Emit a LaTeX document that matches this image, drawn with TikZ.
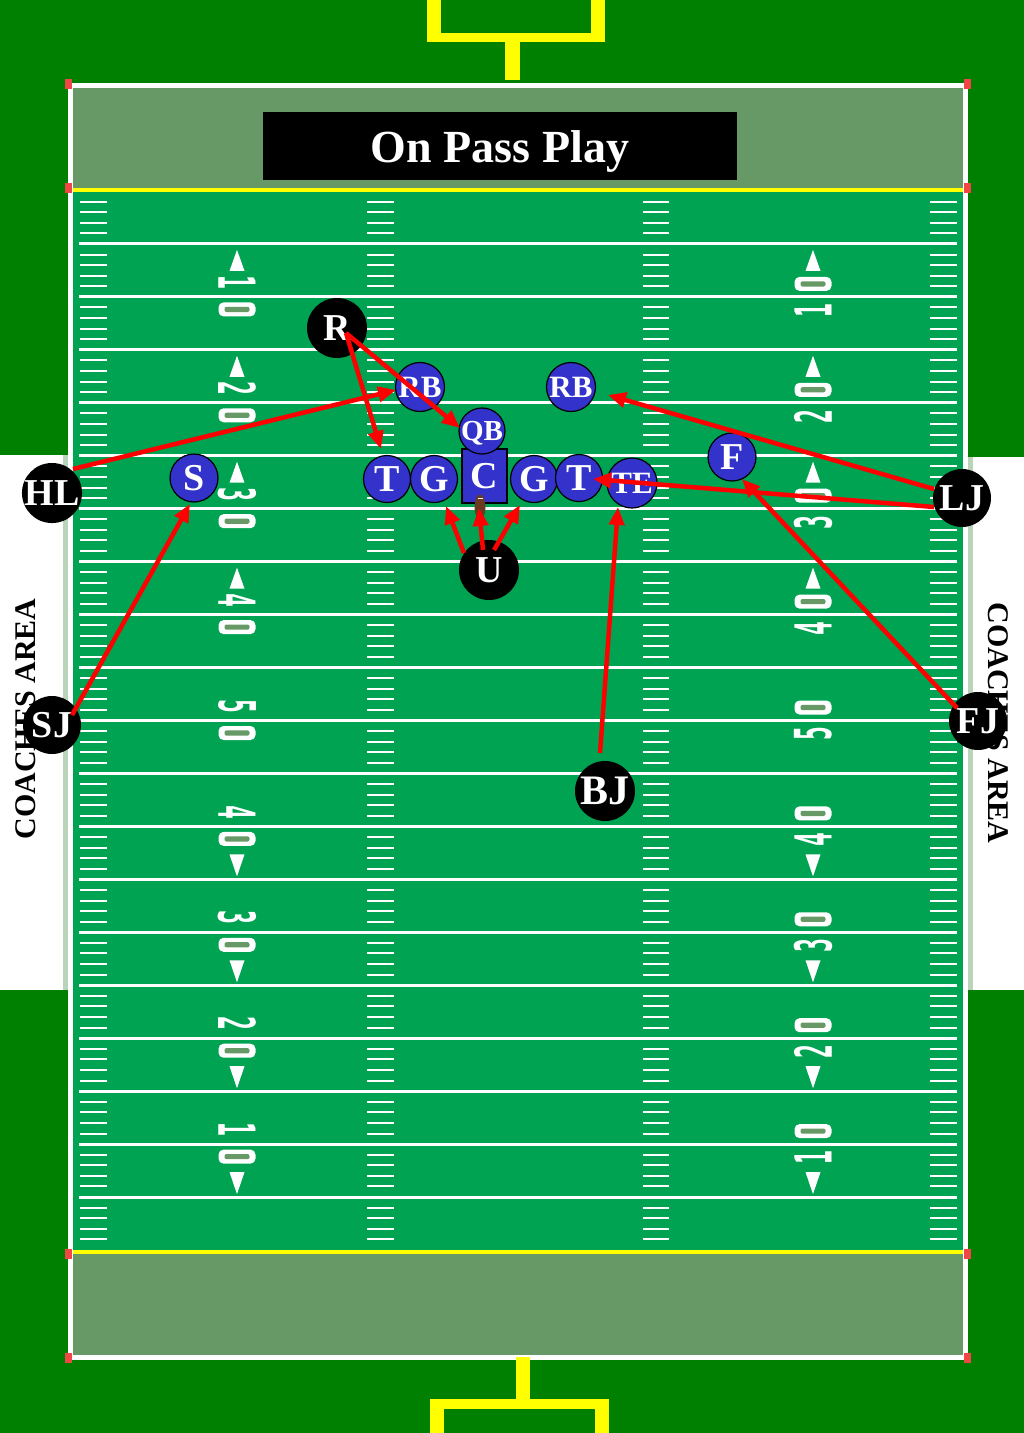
\documentclass[tikz,border=0pt]{standalone}
\usepackage{fontspec}
\setmainfont{Liberation Serif}
\newfontfamily\yarddigitfont{DejaVu Sans Mono Bold}
\usetikzlibrary{arrows.meta,calc,shapes.geometric}
\definecolor{darkgrass}{RGB}{0,128,0}
\definecolor{endzone}{RGB}{102,153,102}
\definecolor{fieldgreen}{RGB}{0,163,82}
\definecolor{playerblue}{RGB}{51,51,204}
\definecolor{goalyellow}{RGB}{255,255,0}
\definecolor{palestripe}{RGB}{185,212,185}
\definecolor{ballbrown}{RGB}{105,58,32}
\definecolor{pylonred}{RGB}{240,70,70}
\newcommand{\ydig}[1]{\scalebox{0.45}[1]{\yarddigitfont\fontsize{51}{51}\selectfont #1}}
\tikzset{
  player/.style={circle,draw=black,line width=1.2pt,fill=playerblue,text=white,
    font=\bfseries\fontsize{38}{38}\selectfont,minimum size=47pt,inner sep=0pt,text depth=0pt},
  smallplayer/.style={player,font=\bfseries\fontsize{31}{31}\selectfont},
  official/.style={circle,fill=black,text=white,font=\bfseries\fontsize{38}{38}\selectfont,
    minimum size=60pt,inner sep=0pt,text depth=0pt},
  offarrow/.style={draw=red,line width=4.5pt,-{Triangle[length=18pt,width=15pt]}},
  tickmark/.style={draw=white,line width=2pt},
  yardline/.style={draw=white,line width=3pt},
  yardnum/.style={text=white,inner sep=0pt},
  zeropill/.pic={\fill[white,rounded corners=5pt] (-18.5,-7) rectangle (18.5,7);
                 \fill[endzone,rounded corners=2pt] (-12.5,-2.6) rectangle (12.5,2.6);},
  coach/.style={text=black,font=\bfseries\fontsize{30}{30}\selectfont,inner sep=0pt}
}
\begin{document}
\begin{tikzpicture}[x=1pt,y=-1pt]
\useasboundingbox (0,0) rectangle (1024,1433);
\fill[darkgrass] (0,0) rectangle (1024,1433);
% coaches areas
\fill[white] (0,455) rectangle (63,990);
\fill[palestripe] (63,455) rectangle (70,990);
\fill[palestripe] (966,457) rectangle (973,990);
\fill[white] (973,457) rectangle (1024,990);
% end zones and field
\fill[endzone] (70,85) rectangle (966,190);
\fill[fieldgreen] (70,190) rectangle (966,1252);
\fill[endzone] (70,1252) rectangle (966,1357);
% ticks
\foreach \k in {0,...,19} {
  \foreach \j in {1,...,4} {
    \pgfmathsetmacro{\T}{191+52.95*\k+10.59*\j}
    \foreach \a/\b in {80/107,367/394,643/669,930/957}
      \draw[tickmark] (\a,\T) -- (\b,\T);
  }
}
% yard lines
\foreach \k in {1,...,19} {
  \pgfmathsetmacro{\Y}{191+52.95*\k}
  \draw[yardline] (79,\Y) -- (957,\Y);
}
% yard numbers
\foreach \k/\d in {2/1,4/2,6/3,8/4,10/5,12/4,14/3,16/2,18/1} {
  \pgfmathsetmacro{\Y}{191+52.95*\k}
  \node[yardnum,rotate=-90] at (237,\Y-14.5) {\ydig{\d}};
  \pic at (237,\Y+12.5) {zeropill};
  \node[yardnum,rotate=90] at (813,\Y+13.5) {\ydig{\d}};
  \pic at (813,\Y-13) {zeropill};
}
\foreach \k in {2,4,6,8} {
  \pgfmathsetmacro{\Y}{191+52.95*\k}
  \foreach \X in {237,813}
    \fill[white] (\X,\Y-47) -- (\X-7.5,\Y-26) -- (\X+7.5,\Y-26) -- cycle;
}
\foreach \k in {12,14,16,18} {
  \pgfmathsetmacro{\Y}{191+52.95*\k}
  \foreach \X in {237,813}
    \fill[white] (\X,\Y+50) -- (\X-7.5,\Y+28) -- (\X+7.5,\Y+28) -- cycle;
}
% boundary and goal lines
\draw[white,line width=5pt] (70.5,85) rectangle (965.5,1357);
\draw[goalyellow,line width=4pt] (73,190) -- (963,190);
\draw[goalyellow,line width=4pt] (73,1252) -- (963,1252);
% pylons
\foreach \px in {68,967} \foreach \py in {84,188,1254,1358}
  \fill[pylonred] (\px-3.5,\py-5) rectangle (\px+3.5,\py+5);
% goal posts
\fill[goalyellow] (427,0) rectangle (441,42);
\fill[goalyellow] (591,0) rectangle (605,42);
\fill[goalyellow] (427,33) rectangle (605,42);
\fill[goalyellow] (505,42) rectangle (520,80);
\fill[goalyellow] (516,1357) rectangle (530,1400);
\fill[goalyellow] (430,1399) rectangle (609,1409);
\fill[goalyellow] (430,1399) rectangle (444,1433);
\fill[goalyellow] (595,1399) rectangle (609,1433);
% title
\node[fill=black,text=white,minimum width=474pt,minimum height=68pt,inner sep=0pt,
  text height=33pt,text depth=0pt,font=\bfseries\fontsize{46}{46}\selectfont] (title) at (500,146) {On Pass Play};
% coaches area labels
\node[coach,rotate=90] (coachL) at (26,719) {COACHES AREA};
\node[coach,rotate=-90] (coachR) at (998,723) {COACHES AREA};
% players
\node[player,minimum size=48pt] (pS) at (194,478) {S};
\node[player] (pTL) at (387,479) {T};
\node[player] (pGL) at (434,479) {G};
\node[rectangle,draw=black,line width=1.2pt,fill=playerblue,text=white,
  font=\bfseries\fontsize{38}{38}\selectfont,minimum width=45pt,minimum height=54pt,
  inner sep=0pt,text depth=0pt] (pC) at (484.5,476) {C};
\node[player] (pGR) at (534,479) {G};
\node[player] (pTR) at (579,478) {T};
\node[smallplayer,minimum size=50pt] (pTE) at (632,483) {TE};
\node[smallplayer,minimum size=46pt,font=\bfseries\fontsize{29}{29}\selectfont] (pQB) at (482,431) {QB};
\node[smallplayer,minimum size=49pt] (pRBL) at (420,387) {RB};
\node[smallplayer,minimum size=49pt] (pRBR) at (571,387) {RB};
\node[player,minimum size=48pt] (pF) at (732,457) {F};
\node[ellipse,fill=ballbrown,minimum width=11pt,minimum height=25pt,inner sep=0pt] (ball) at (480,507) {};
\draw[white,line width=1pt] ($(ball)+(-2.5,-9)$) -- ($(ball)+(2.5,-9)$);
% officials
\node[official] (offR) at (337,328) {R};
\node[official] (offU) at (489,570) {U};
\node[official,minimum size=58pt] (offHL) at (52,493) {HL};
\node[official,minimum size=58pt] (offSJ) at (52,725) {SJ};
\node[official,minimum size=58pt] (offLJ) at (962,498) {LJ};
\node[official,minimum size=58pt] (offFJ) at (978,721) {FJ};
\node[official,font=\bfseries\fontsize{42}{42}\selectfont] (offBJ) at (605,791) {BJ};
% arrows
\draw[offarrow] ($(offR)+(9,5)$) -- ($(pTL)+(-6,-30)$);
\draw[offarrow] ($(offR)+(9,5)$) -- ($(pQB)+(-22,-3)$);
\draw[offarrow] ($(offHL)+(21,-24)$) -- ($(pRBL)+(-24,3)$);
\draw[offarrow] ($(offLJ)+(-28,-9)$) -- ($(pRBR)+(37,8)$);
\draw[offarrow] ($(offLJ)+(-28,9)$) -- ($(pTR)+(14,1)$);
\draw[offarrow] ($(offU)+(-25,-17)$) -- ($(pGL)+(12,27)$);
\draw[offarrow] ($(offU)+(-6,-20)$) -- ($(ball)+(-1,1)$);
\draw[offarrow] ($(offU)+(5,-20)$) -- ($(pGR)+(-14,26)$);
\draw[offarrow] ($(offSJ)+(20,-10)$) -- ($(pS)+(-4,26)$);
\draw[offarrow] ($(offFJ)+(-21,-13)$) -- ($(pF)+(10,22)$);
\draw[offarrow] ($(offBJ)+(-5,-38)$) -- ($(pTE)+(-14,24)$);
\end{tikzpicture}
\end{document}
